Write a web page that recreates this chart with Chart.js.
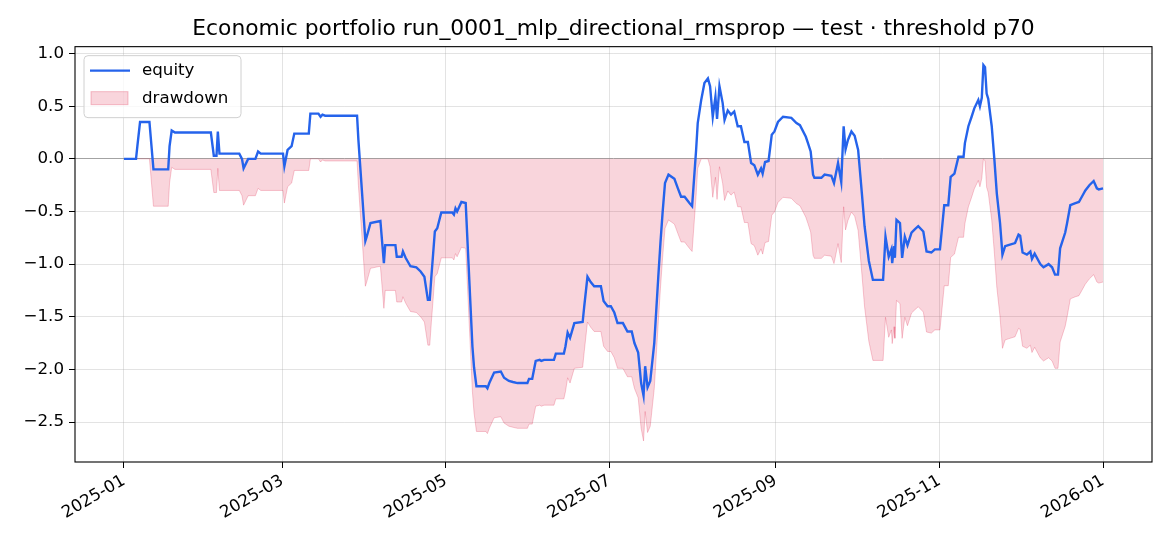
<!DOCTYPE html>
<html>
<head>
<meta charset="utf-8">
<script src="https://cdn.jsdelivr.net/npm/chart.js@4.4.1/dist/chart.umd.min.js"></script>
<style>
  html, body { margin: 0; padding: 0; background: #fff; }
  #wrap { width: 1170px; height: 546px; }
</style>
</head>
<body>
<div id="wrap"><canvas id="equity-chart" width="1170" height="546"></canvas></div>
<script>
// days since 2025-01-01
const days = [
  0, 4.5, 5.0, 6.0, 9.5, 11.0, 16.5, 17.0, 17.8, 19, 32.4, 33.5, 34.5, 35.0, 35.6,
  43.0, 44.0, 44.6, 46.3, 49.0, 50.0, 51, 59.3, 59.8, 61.0, 62.5, 63.5, 68.9, 69.5,
  72.5, 73.3, 74.0, 75, 86.9, 87.4, 90.0, 90.5, 91.9, 95.6, 96.9, 97.4, 101.2, 101.7,
  103.5, 104, 105, 106.8, 109, 110.6, 112, 113.3, 114.0, 114.6, 115.9, 116.8, 118.3,
  122.4, 123, 123.6, 124.2, 125.8, 127.4, 129.9, 130.5, 131.4, 134.9, 135.5, 136.2,
  138.0, 140.5, 141.7, 143.5, 145, 146.7, 150.4, 151, 152.2, 153.5, 155, 155.6, 156.6,
  160.3, 161, 164, 164.6, 165.4, 166.3, 167.9, 171, 171.6, 172.8, 174, 175.3, 177.8,
  178.8, 180.3, 181.5, 182.8, 184, 186, 187.7, 189.3, 190.3, 191.7, 192.8, 193.7,
  194.3, 195.2, 196.2, 197.7, 199.2, 200.0, 200.8, 201.7, 203.0, 205.2, 206.5, 207.7,
  209.0, 210.8, 211.8, 213.3, 213.9, 215.2, 216.4, 217.7, 218.5, 219.5, 220.5, 221.1,
  222.0, 223.2, 223.9, 225.1, 226.3, 227.5, 228.8, 230.0, 231.3, 232.6, 233.8, 235,
  236.3, 237.5, 238.1, 239.0, 240.3, 241.5, 242.5, 243.8, 245.7, 248.8, 250.7, 252,
  254.2, 255.0, 256.0, 256.9, 257.4, 260.0, 261.2, 263.7, 264.7, 266.2, 267.4, 268.3,
  269.0, 269.9, 271.2, 272.4, 273.7, 275.1, 276.1, 277.7, 279.2, 283.0, 283.9, 285.1,
  286.1, 286.4, 287.1, 287.4, 288.0, 289.3, 290.1, 291.1, 292.1, 293.6, 294.8, 296.1,
  298, 299.2, 301, 302.3, 304.2, 305.8, 307.3, 308.2, 309.6, 311.1, 313.0, 313.5,
  314.8, 316.0, 317, 318.5, 319.1, 319.8, 320.4, 321.0, 321.6, 322.2, 323.5, 324.5,
  325.4, 326.6, 327.5, 328.5, 329.7, 332.2, 333.5, 334.1, 335.0, 336.6, 337.9, 338.5,
  339.5, 341.6, 342.8, 344.7, 346, 347.1, 348.2, 349.0, 350.9, 351.6, 352.8, 354.7,
  356, 357.1, 358.4, 359.9, 361.5, 362.7, 363.4, 365
];

const equity = [
  0.0, 0.0, 0.12, 0.35, 0.35, -0.10, -0.10, 0.12, 0.27, 0.25, 0.25, 0.03, 0.03, 0.26, 0.05,
  0.05, 0.0, -0.09, 0.0, 0.0, 0.07, 0.05, 0.05, -0.07, 0.085, 0.12, 0.24, 0.24, 0.43,
  0.43, 0.40, 0.42, 0.41, 0.41, 0.18, -0.78, -0.74, -0.61, -0.59, -0.99, -0.82, -0.82, -0.93,
  -0.93, -0.88, -0.94, -1.02, -1.03, -1.07, -1.12, -1.34, -1.34, -1.12, -0.69, -0.66, -0.51,
  -0.51, -0.53, -0.47, -0.50, -0.41, -0.42, -1.78, -1.98, -2.16, -2.16, -2.18, -2.13,
  -2.03, -2.02, -2.08, -2.11, -2.12, -2.13, -2.13, -2.09, -2.09, -1.92, -1.91, -1.92, -1.91,
  -1.91, -1.85, -1.85, -1.78, -1.65, -1.70, -1.56, -1.55, -1.40, -1.12, -1.17, -1.21, -1.21,
  -1.35, -1.40, -1.40, -1.46, -1.56, -1.56, -1.64, -1.64, -1.75, -1.84, -2.13, -2.25,
  -1.97, -2.17, -2.11, -1.75, -1.12, -0.80, -0.51, -0.23, -0.15, -0.19, -0.28, -0.36,
  -0.36, -0.42, -0.45, 0.085, 0.34, 0.56, 0.72, 0.765, 0.69, 0.40, 0.59, 0.38,
  0.69, 0.53, 0.37, 0.46, 0.42, 0.45, 0.31, 0.31, 0.16, 0.16, -0.04, -0.06,
  -0.15, -0.09, -0.14, -0.03, -0.02, 0.23, 0.26, 0.35, 0.40, 0.39, 0.34, 0.32,
  0.21, 0.15, 0.07, -0.15, -0.18, -0.18, -0.15, -0.16, -0.23, -0.04, -0.22, 0.31,
  0.09, 0.18, 0.26, 0.22, 0.085, -0.33, -0.64, -0.97, -1.15, -1.15, -0.74, -0.93,
  -0.86, -0.99, -0.83, -0.94, -0.58, -0.61, -0.94, -0.74, -0.82, -0.70, -0.67, -0.64,
  -0.69, -0.88, -0.89, -0.86, -0.86, -0.44, -0.44, -0.17, -0.14, 0.02, 0.02, 0.15,
  0.31, 0.40, 0.48, 0.56, 0.50, 0.58, 0.89, 0.87, 0.62, 0.57, 0.31, -0.01,
  -0.33, -0.61, -0.91, -0.83, -0.82, -0.80, -0.72, -0.73, -0.89, -0.91, -0.88, -0.95,
  -0.90, -1.00, -1.03, -1.00, -1.03, -1.10, -1.10, -0.85, -0.70, -0.61, -0.44, -0.42,
  -0.41, -0.36, -0.30, -0.25, -0.21, -0.28, -0.29, -0.28
];

const monthTicks = [0, 59, 120, 181, 243, 304, 365];
const monthLabels = ['2025-01', '2025-03', '2025-05', '2025-07', '2025-09', '2025-11', '2026-01'];
const yTicks = [-2.5, -2.0, -1.5, -1.0, -0.5, 0.0, 0.5, 1.0];

// drawdown = equity below its running peak
let peak = -Infinity;
const drawdown = equity.map(v => {
  peak = Math.max(peak, v);
  return v - peak;
});

const FONT = 'DejaVu Sans';
const fmt = v => (v < 0 ? '\u2212' : '') + Math.abs(v).toFixed(1);

const frameAndLegend = {
  id: 'frameAndLegend',
  afterDraw(chart) {
    const c = chart.ctx;
    const a = chart.chartArea;
    c.save();
    c.strokeStyle = '#000';
    c.lineWidth = 1.1;
    c.strokeRect(a.left, a.top, a.right - a.left, a.bottom - a.top);

    // legend box, top left inside the plot
    const lx = a.left + 9, ly = a.top + 9, lw = 157, lh = 62;
    c.beginPath();
    c.roundRect(lx, ly, lw, lh, 4);
    c.fillStyle = 'rgba(255,255,255,0.8)';
    c.fill();
    c.strokeStyle = '#d0d0d0';
    c.lineWidth = 1;
    c.stroke();

    c.strokeStyle = '#2563eb';
    c.lineWidth = 2.4;
    c.beginPath();
    c.moveTo(lx + 6, ly + 15);
    c.lineTo(lx + 46, ly + 15);
    c.stroke();

    c.fillStyle = 'rgba(220,20,60,0.18)';
    c.fillRect(lx + 7, ly + 36, 37, 13);
    c.strokeStyle = 'rgba(220,20,60,0.25)';
    c.lineWidth = 1;
    c.strokeRect(lx + 7, ly + 36, 37, 13);

    c.fillStyle = '#000';
    c.font = '16.7px "' + FONT + '"';
    c.textBaseline = 'middle';
    c.textAlign = 'left';
    c.fillText('equity', lx + 58, ly + 15);
    c.fillText('drawdown', lx + 58, ly + 43);
    c.restore();
  }
};

const ctx = document.getElementById('equity-chart').getContext('2d');
new Chart(ctx, {
  type: 'line',
  data: {
    datasets: [
      {
        label: 'equity',
        data: days.map((d, i) => ({ x: d, y: equity[i] })),
        borderColor: '#2563eb',
        borderWidth: 2.4,
        pointRadius: 0,
        tension: 0,
        fill: false,
        order: 0
      },
      {
        label: 'drawdown',
        data: days.map((d, i) => ({ x: d, y: drawdown[i] })),
        borderColor: 'rgba(220,20,60,0.22)',
        backgroundColor: 'rgba(220,20,60,0.18)',
        borderWidth: 1,
        pointRadius: 0,
        tension: 0,
        fill: 'origin',
        order: 1
      }
    ]
  },
  options: {
    responsive: false,
    animation: false,
    devicePixelRatio: 1,
    layout: { padding: { left: 0, right: 18, top: 0, bottom: 0 } },
    plugins: {
      legend: { display: false },
      tooltip: { enabled: false },
      title: {
        display: true,
        fullSize: false,
        text: 'Economic portfolio run_0001_mlp_directional_rmsprop \u2014 test \u00b7 threshold p70',
        color: '#000',
        font: { family: FONT, size: 21.8, weight: 'normal' },
        padding: { top: 16.5, bottom: 4 }
      }
    },
    scales: {
      x: {
        type: 'linear',
        min: -18.25,
        max: 383.25,
        afterBuildTicks: s => { s.ticks = monthTicks.map(v => ({ value: v })); },
        afterFit: s => { s.height = 84; },
        grid: {
          color: 'rgba(176,176,176,0.35)',
          lineWidth: 1,
          tickColor: '#000',
          tickLength: 6,
          tickWidth: 1
        },
        border: { display: false },
        ticks: {
          autoSkip: false,
          minRotation: 30,
          maxRotation: 30,
          padding: 3,
          color: '#000',
          font: { family: FONT, size: 16.7 },
          callback: v => monthLabels[monthTicks.indexOf(v)]
        }
      },
      y: {
        min: -2.88,
        max: 1.066,
        afterBuildTicks: s => { s.ticks = yTicks.map(v => ({ value: v })); },
        afterFit: s => { s.width = 75; },
        grid: {
          color: c => (c.tick && c.tick.value === 0) ? 'rgba(140,140,140,0.8)' : 'rgba(176,176,176,0.35)',
          lineWidth: 1,
          tickColor: '#000',
          tickLength: 6,
          tickWidth: 1
        },
        border: { display: false },
        ticks: {
          padding: 5,
          color: '#000',
          font: { family: FONT, size: 16.7 },
          callback: v => fmt(v)
        }
      }
    }
  },
  plugins: [frameAndLegend]
});
</script>
</body>
</html>
